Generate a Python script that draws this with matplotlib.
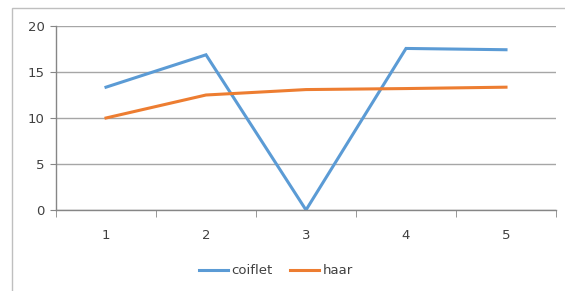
import matplotlib.pyplot as plt
from matplotlib.patches import Rectangle

categories = [1, 2, 3, 4, 5]
coiflet = [13.35, 16.87, 0.0, 17.56, 17.42]
haar = [10.0, 12.5, 13.09, 13.2, 13.35]

GRID = '#a6a6a6'
AXIS = '#868686'

fig = plt.figure(figsize=(5.65, 2.91), dpi=100)

# outer chart frame (cropped in the reference)
fig.patches.append(Rectangle((11.5 / 565, -0.1), 1.2, 1.1 - 8.5 / 291,
                             transform=fig.transFigure, fill=False,
                             edgecolor='#bfbfbf', linewidth=1.0))

ax = fig.add_axes([56 / 565, 81 / 291, 500 / 565, 184 / 291])

ax.plot(categories, coiflet, color='#5b9bd5', linewidth=2.2, label='coiflet',
        solid_joinstyle='miter')
ax.plot(categories, haar, color='#ed7d31', linewidth=2.2, label='haar',
        solid_joinstyle='miter')

ax.set_xlim(0.5, 5.5)
ax.set_ylim(0, 20)
ax.set_yticks([0, 5, 10, 15, 20])
ax.set_xticks(categories)
ax.set_xticks([0.5, 1.5, 2.5, 3.5, 4.5, 5.5], minor=True)

ax.yaxis.grid(True, color=GRID, linewidth=1.0)
ax.set_axisbelow(True)

for s in ['top', 'right']:
    ax.spines[s].set_visible(False)
for s in ['left', 'bottom']:
    ax.spines[s].set_color(AXIS)
    ax.spines[s].set_linewidth(1.0)

ax.tick_params(axis='x', which='major', length=0, pad=14, labelsize=9.5,
               labelcolor='#404040')
ax.tick_params(axis='x', which='minor', length=5, color=AXIS, direction='out')
ax.tick_params(axis='y', length=4, color=AXIS, pad=4, labelsize=9.5,
               labelcolor='#404040')

ax.legend(loc='upper center', bbox_to_anchor=(0.44, -0.23), ncol=2,
          frameon=False, fontsize=9.5, handlelength=2.2, handletextpad=0.25,
          columnspacing=1.3, labelcolor='#404040')

fig.savefig('out.png', dpi=100)
